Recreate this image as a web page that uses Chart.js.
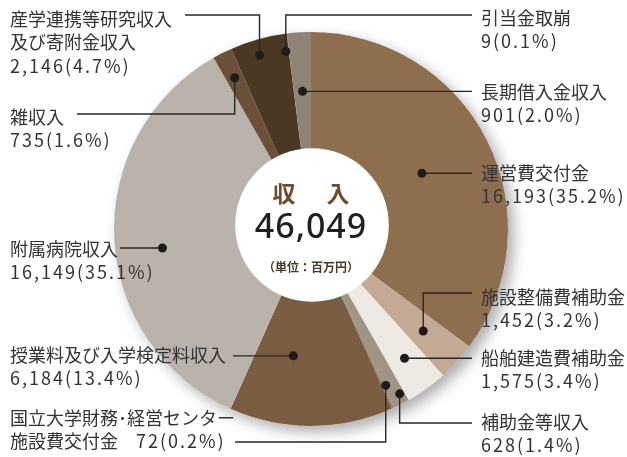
<!DOCTYPE html>
<html lang="ja">
<head>
<meta charset="utf-8">
<script src="https://cdn.jsdelivr.net/npm/chart.js@4/dist/chart.umd.min.js"></script>
<style>
  body { margin: 0; background: #fff; }
  #wrap { width: 627px; height: 457px; }
</style>
</head>
<body>
<div id="wrap"><canvas id="incomeChart" width="627" height="457"></canvas></div>
<script>
// Data (clockwise from 12 o'clock)
const names = [
    '運営費交付金',
    '施設整備費補助金',
    '船舶建造費補助金',
    '補助金等収入',
    '国立大学財務･経営センター\n施設費交付金',
    '授業料及び入学検定料収入',
    '附属病院収入',
    '雑収入',
    '産学連携等研究収入\n及び寄附金収入',
    '引当金取崩',
    '長期借入金収入'
];
const values = [16193, 1452, 1575, 628, 72, 6184, 16149, 735, 2146, 9, 901];
const percents = ['35.2', '3.2', '3.4', '1.4', '0.2', '13.4', '35.1', '1.6', '4.7', '0.1', '2.0'];
const totalLabel = '46,049';
const colors = ['#8d6e4f', '#c4aa95', '#eee9e3', '#a09485', '#8f8070', '#7a5c40',
                '#bab3ac', '#6a5038', '#4a3824', '#5e4c3a', '#8f8375'];

// leader line layout: dot radius fraction, angle shift, route, label placement
const leaders = [
    { rf: 0.63, da: 0,    route: 'h',  x2: 472, tx: 481, ty: 173 },
    { rf: 0.77, da: 0,    route: 'vh', y: 293, x2: 472, tx: 481, ty: 297 },
    { rf: 0.81, da: 0,    route: 'h',  x2: 472, tx: 481, ty: 358 },
    { rf: 0.95, da: -1,   route: 'vh', y: 423, x2: 472, tx: 481, ty: 422 },
    { rf: 0.88, da: -1,   route: 'vh', y: 442, x2: 235, tx: 10,  ty: 418, inline: true },
    { rf: 0.65, da: 8,    route: 'h',  x2: 233, tx: 10,  ty: 355 },
    { rf: 0.76, da: -4.5, route: 'h',  x2: 120, tx: 10,  ty: 249 },
    { rf: 0.86, da: 0,    route: 'vh', y: 114, x2: 77,  tx: 10,  ty: 117 },
    { rf: 0.92, da: -1,   route: 'vh', y: 15,  x2: 185, tx: 10,  ty: 19 },
    { rf: 0.91, da: -1,   route: 'vh', y: 15,  x2: 472, tx: 481, ty: 18 },
    { rf: 0.70, da: 0,    route: 'h',  x2: 472, tx: 481, ty: 92 }
];

const LABEL_FONT = '18px "Noto Sans CJK JP", "Noto Sans", sans-serif';
const LINE_H = 23.5;

// soft shadow under the pie
const shadowPlugin = {
    id: 'pieShadow',
    beforeDatasetsDraw(chart) {
        const arc = chart.getDatasetMeta(0).data[0];
        if (!arc) return;
        const ctx = chart.ctx;
        ctx.save();
        ctx.shadowColor = 'rgba(0,0,0,0.32)';
        ctx.shadowBlur = 14;
        ctx.shadowOffsetX = 6;
        ctx.shadowOffsetY = 6;
        ctx.fillStyle = '#fff';
        ctx.beginPath();
        ctx.arc(arc.x, arc.y, arc.outerRadius, 0, Math.PI * 2);
        ctx.fill();
        ctx.restore();
    }
};

// value text like 16,193(35.2%) with a bit of tracking
function drawValue(ctx, text, x, y) {
    ctx.letterSpacing = '2px';
    ctx.fillText(text, x, y);
    ctx.letterSpacing = '0px';
}

// white centre disc, title and callouts
const calloutPlugin = {
    id: 'callouts',
    afterDatasetsDraw(chart) {
        const ctx = chart.ctx;
        const meta = chart.getDatasetMeta(0);
        const first = meta.data[0];
        const cx = first.x, cy = first.y, R = first.outerRadius;

        // centre disc
        ctx.save();
        ctx.fillStyle = '#fff';
        ctx.beginPath();
        ctx.arc(cx + 1, cy - 4, R * 0.39, 0, Math.PI * 2);
        ctx.fill();

        ctx.textAlign = 'center';
        ctx.textBaseline = 'middle';
        ctx.fillStyle = '#6b4c30';
        ctx.font = 'bold 23px "Noto Sans CJK JP", sans-serif';
        ctx.fillText('収', cx - 27, cy - 36);
        ctx.fillText('入', cx + 27, cy - 36);

        ctx.fillStyle = '#231f1f';
        ctx.font = '500 34px "Noto Sans", sans-serif';
        ctx.letterSpacing = '1px';
        ctx.fillText(totalLabel, cx, cy - 1);
        ctx.letterSpacing = '0px';

        ctx.fillStyle = '#4a3828';
        ctx.font = 'bold 12px "Noto Sans CJK JP", sans-serif';
        ctx.fillText('（単位：百万円）', cx, cy + 38);

        // leaders
        ctx.strokeStyle = '#2b2626';
        ctx.lineWidth = 1.4;
        meta.data.forEach((arc, i) => {
            const L = leaders[i];
            const mid = (arc.startAngle + arc.endAngle) / 2 + L.da * Math.PI / 180;
            const r = R * L.rf;
            const dx = cx + r * Math.cos(mid);
            const dy = cy + r * Math.sin(mid);

            ctx.beginPath();
            ctx.moveTo(dx, dy);
            if (L.route === 'vh') {
                ctx.lineTo(dx, L.y);
                ctx.lineTo(L.x2, L.y);
            } else {
                ctx.lineTo(L.x2, dy);
            }
            ctx.stroke();

            ctx.fillStyle = '#1f1b1b';
            ctx.beginPath();
            ctx.arc(dx, dy, 4.5, 0, Math.PI * 2);
            ctx.fill();

            // label text
            const valText = values[i].toLocaleString('en-US') + '(' + percents[i] + '%)';
            const lines = names[i].split('\n');
            ctx.fillStyle = '#333';
            ctx.font = LABEL_FONT;
            ctx.textAlign = 'left';
            ctx.textBaseline = 'middle';
            lines.forEach((t, k) => ctx.fillText(t, L.tx, L.ty + k * LINE_H));
            if (L.inline) {
                const last = lines[lines.length - 1] + '　';
                const w = ctx.measureText(last).width;
                drawValue(ctx, valText, L.tx + w, L.ty + (lines.length - 1) * LINE_H);
            } else {
                drawValue(ctx, valText, L.tx, L.ty + lines.length * LINE_H);
            }
        });
        ctx.restore();
    }
};

const ctx = document.getElementById('incomeChart').getContext('2d');
const incomeChart = new Chart(ctx, {
    type: 'pie',
    data: {
        labels: names,
        datasets: [{
            data: values,
            backgroundColor: colors,
            borderWidth: 0
        }]
    },
    options: {
        responsive: false,
        animation: false,
        layout: { padding: { top: 32, bottom: 31, left: 100, right: 105 } },
        plugins: {
            legend: { display: false },
            tooltip: { enabled: false }
        }
    },
    plugins: [shadowPlugin, calloutPlugin]
});
</script>
</body>
</html>
